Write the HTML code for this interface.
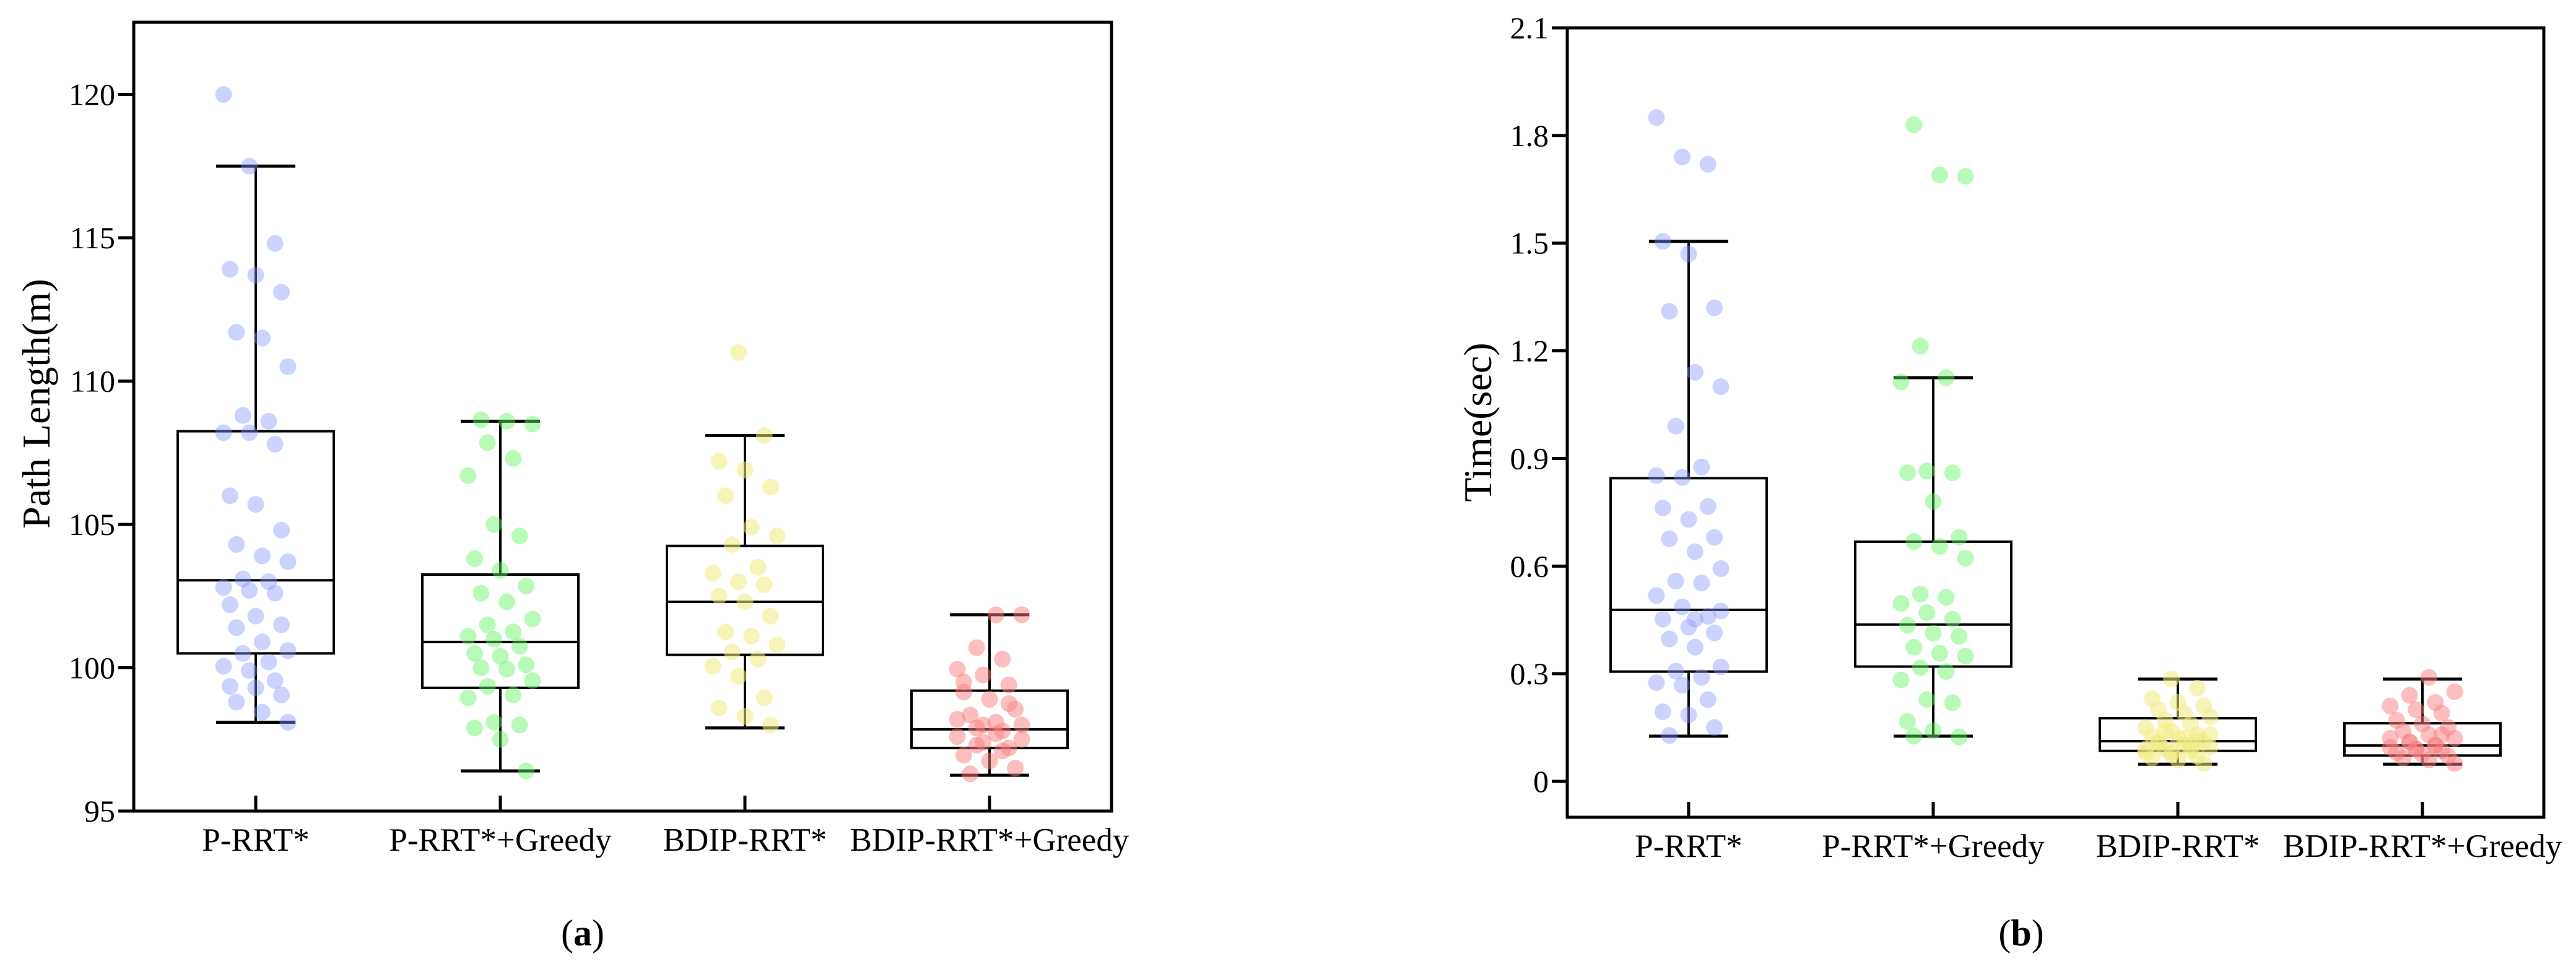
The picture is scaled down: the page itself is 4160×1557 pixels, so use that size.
<!DOCTYPE html>
<html><head><meta charset="utf-8"><style>
html,body{margin:0;padding:0;background:#fff;}
svg{display:block;}
text{font-family:"Liberation Serif",serif;fill:#000;}
</style></head><body>
<svg id="fig" width="4160" height="1557" viewBox="0 0 4160 1557" xmlns="http://www.w3.org/2000/svg"></svg>
<script>
const categories = ["P-RRT*","P-RRT*+Greedy","BDIP-RRT*","BDIP-RRT*+Greedy"];
// Panel (a) path length
const aTicks = [95,100,105,110,115,120];
const aTickLabels = ["95","100","105","110","115","120"];
const aBoxes = [ // [lowWhisker, q1, median, q3, highWhisker]
 [98.1,100.5,103.05,108.25,117.5],
 [96.4,99.3,100.9,103.25,108.6],
 [97.9,100.45,102.3,104.25,108.1],
 [96.25,97.2,97.85,99.2,101.85]];
const aPts0 = [120,117.5,114.8,113.9,113.7,113.1,111.7,111.5,110.5,108.8,108.6,108.2,108.2,107.8,106,105.7,104.8,104.3,103.9,103.7,103.1,103,102.8,102.7,102.6,102.2,101.8,101.5,101.4,100.9,100.6,100.5,100.2,100.05,99.9,99.55,99.35,99.3,99.05,98.8,98.45,98.1];
const aPts1 = [108.65,108.6,108.5,107.85,107.3,106.7,105,104.6,103.8,103.4,102.85,102.6,102.3,101.7,101.5,101.25,101.1,101,100.75,100.5,100.4,100.1,100,99.95,99.55,99.35,99.05,98.95,98.1,98,97.9,97.5,96.4];
const aPts2 = [111,108.1,107.2,106.9,106.3,106,104.9,104.6,104.3,103.5,103.3,103,102.9,102.5,102.3,101.8,101.25,101.1,100.8,100.55,100.3,100.05,99.7,98.95,98.6,98.3,98];
const aPts3 = [101.85,101.85,100.7,100.3,99.95,99.75,99.4,99.15,98.9,98.55,98.35,98.1,98,97.9,97.8,97.6,97.4,97.2,96.95,96.75,96.5,96.3,97.7,97.5,97.3,97.1,98.2,98,98.75,99.5];
// Panel (b) time
const bTicks = [0,0.3,0.6,0.9,1.2,1.5,1.8,2.1];
const bTickLabels = ["0","0.3","0.6","0.9","1.2","1.5","1.8","2.1"];
const bBoxes = [
 [0.126,0.306,0.478,0.845,1.505],
 [0.126,0.32,0.437,0.668,1.125],
 [0.048,0.085,0.112,0.176,0.285],
 [0.048,0.072,0.1,0.162,0.285]];
const bPts0 = [1.85,1.74,1.72,1.505,1.47,1.32,1.31,1.14,1.10,0.99,0.876,0.852,0.847,0.766,0.762,0.73,0.68,0.676,0.64,0.593,0.558,0.553,0.518,0.486,0.46,0.452,0.43,0.414,0.397,0.374,0.319,0.307,0.29,0.275,0.268,0.228,0.194,0.185,0.15,0.128,0.452,0.475];
const bPts1 = [1.83,1.69,1.686,1.213,1.125,1.113,0.865,0.86,0.86,0.78,0.68,0.668,0.655,0.622,0.522,0.513,0.496,0.47,0.452,0.435,0.413,0.404,0.374,0.357,0.349,0.317,0.306,0.283,0.228,0.219,0.167,0.141,0.124,0.126];
const bPts2 = [0.285,0.26,0.23,0.22,0.21,0.2,0.19,0.18,0.17,0.16,0.15,0.14,0.13,0.125,0.12,0.11,0.105,0.1,0.095,0.09,0.085,0.08,0.075,0.07,0.065,0.06,0.05,0.11,0.12,0.13,0.14,0.1,0.09,0.08,0.115];
const bPts3 = [0.29,0.25,0.24,0.22,0.21,0.2,0.19,0.17,0.16,0.15,0.14,0.13,0.12,0.11,0.1,0.095,0.09,0.085,0.08,0.075,0.07,0.065,0.06,0.05,0.11,0.1,0.12,0.09,0.13];

const colors = ["rgba(135,150,255,0.42)","rgba(100,245,100,0.45)","rgba(240,235,130,0.55)","rgba(250,125,125,0.5)"];
const NS="http://www.w3.org/2000/svg";
const svg=document.getElementById('fig');
function mk(tag,attrs,parent){const e=document.createElementNS(NS,tag);for(const k in attrs)e.setAttribute(k,attrs[k]);(parent||svg).appendChild(e);return e;}

function panel(cfg){
  const g=mk('g',{});
  
  
  const L=cfg.x0,R=cfg.x1,T=cfg.y0,B=cfg.y1;
  const y=v=>B-(v-cfg.vmin)/(cfg.vmax-cfg.vmin)*(B-T);
  const x=i=>cfg.cx0+i*cfg.step;
  cfg.ticks.forEach((t,i)=>{
    const tk=mk('line',{x1:L-25,x2:L,y1:y(t),y2:y(t),stroke:'#000','stroke-width':5},g);
    
    
    const tl=mk('text',{x:L-30,y:y(t)+17,'text-anchor':'end','font-size':50},g);
    tl.textContent=cfg.tickLabels[i];
    
    
  });
  cfg.boxes.forEach((b,i)=>{
    const cx=x(i);
    const bg=mk('g',{},g);
    
    
    mk('line',{x1:cx,x2:cx,y1:y(b[0]),y2:y(b[1]),stroke:'#000','stroke-width':4},bg);
    mk('line',{x1:cx,x2:cx,y1:y(b[3]),y2:y(b[4]),stroke:'#000','stroke-width':4},bg);
    mk('line',{x1:cx-64,x2:cx+64,y1:y(b[0]),y2:y(b[0]),stroke:'#000','stroke-width':5},bg);
    mk('line',{x1:cx-64,x2:cx+64,y1:y(b[4]),y2:y(b[4]),stroke:'#000','stroke-width':5},bg);
    mk('rect',{x:cx-126,y:y(b[3]),width:252,height:y(b[1])-y(b[3]),fill:'none',stroke:'#000','stroke-width':4},bg);
    mk('line',{x1:cx-126,x2:cx+126,y1:y(b[2]),y2:y(b[2]),stroke:'#000','stroke-width':4},bg);
    const xt=mk('line',{x1:cx,x2:cx,y1:B-25,y2:B,stroke:'#000','stroke-width':5},g);
    
    
    const xl=mk('text',{x:cx,y:B+64,'text-anchor':'middle','font-size':53},g);
    xl.textContent=categories[i];
    
    
  });
  cfg.pts.forEach((arr,i)=>{
    arr.forEach((v,j)=>{
      const jit=(((j*37+i*13)%11)-5)/5*52;
      const c=mk('circle',{cx:x(i)+jit,cy:y(v),r:13.5,fill:colors[i]},g);
      
      
    });
  });
  const fr=mk('rect',{x:L,y:T,width:R-L,height:B-T,fill:'none',stroke:'#000','stroke-width':5},g);
  
  
  const at=mk('text',{x:0,y:0,'text-anchor':'middle','font-size':64,transform:`translate(${cfg.titleX},${cfg.titleY}) rotate(-90)`},g);
  at.textContent=cfg.title;
  
  
  const cap=mk('text',{x:cfg.capX,y:1527,'text-anchor':'middle','font-size':60},g);
  cap.innerHTML='(<tspan font-weight="bold">'+cfg.cap+'</tspan>)';
  
  
}
panel({name:'path-length-panel',x0:216,x1:1795,y0:36,y1:1310,vmin:95,vmax:95+1274/46.3,cx0:413,step:395,
  ticks:aTicks,tickLabels:aTickLabels,boxes:aBoxes,pts:[aPts0,aPts1,aPts2,aPts3],title:'Path Length(m)',titleX:80,titleY:652,capX:941,cap:'a'});
panel({name:'time-panel',x0:2531,x1:4108,y0:45,y1:1320,vmin:-0.1,vmax:2.1,cx0:2727,step:395,
  ticks:bTicks,tickLabels:bTickLabels,boxes:bBoxes,pts:[bPts0,bPts1,bPts2,bPts3],title:'Time(sec)',titleX:2408,titleY:682,capX:3264,cap:'b'});
</script>
</body></html>
